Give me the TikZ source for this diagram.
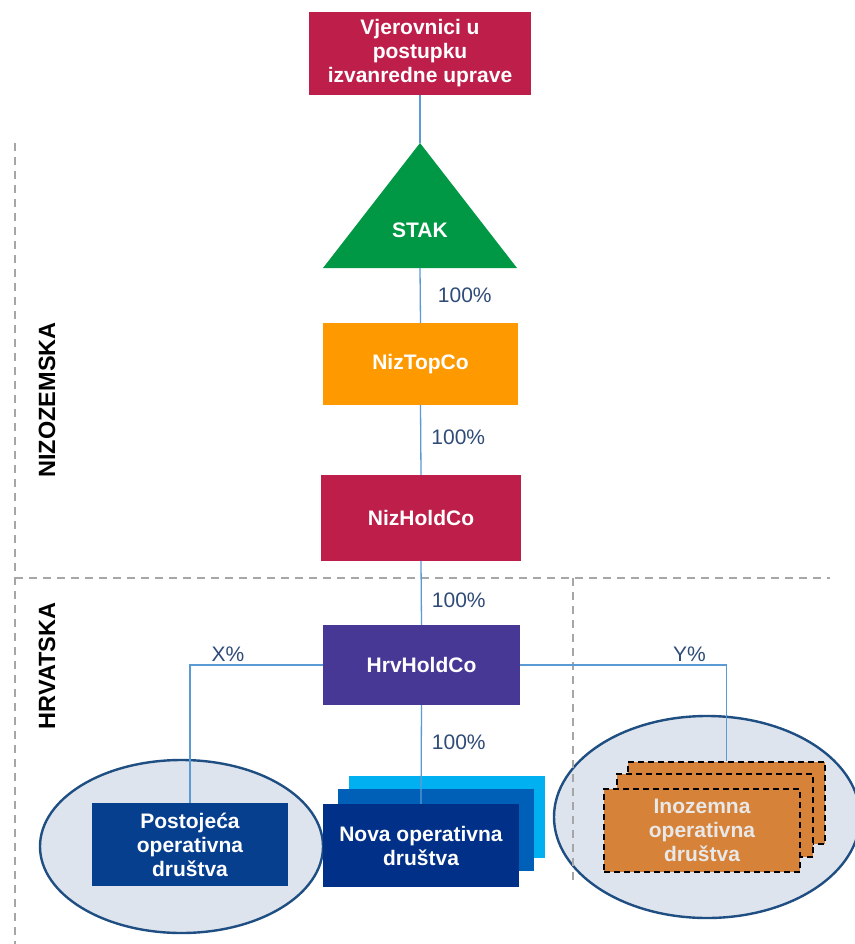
\documentclass[tikz,border=0pt]{standalone}
\usepackage{fontspec}
\setmainfont{Liberation Sans}
\usepackage{tikz}
\usetikzlibrary{calc}

\definecolor{crimson}{RGB}{190,30,74}
\definecolor{stakgreen}{RGB}{0,152,68}
\definecolor{toporange}{RGB}{255,153,0}
\definecolor{hrvpurple}{RGB}{72,56,150}
\definecolor{postblue}{RGB}{7,63,143}
\definecolor{novafront}{RGB}{0,48,135}
\definecolor{novamid}{RGB}{0,96,184}
\definecolor{novaback}{RGB}{0,176,240}
\definecolor{inozorange}{RGB}{215,130,57}
\definecolor{groupfill}{RGB}{222,228,237}
\definecolor{groupline}{RGB}{31,78,130}
\definecolor{linkblue}{RGB}{91,155,213}
\definecolor{pcttext}{RGB}{47,75,120}
\definecolor{divgray}{RGB}{166,166,166}

\tikzset{
	company/.style={rectangle, inner sep=0pt, text=white, align=center,
		font=\fontsize{21}{24}\selectfont\bfseries},
	card/.style={company, minimum width=196pt, minimum height=83pt},
	inozcard/.style={card, fill=inozorange, draw=black, line width=1.8pt,
		dash pattern=on 6pt off 4pt, text={rgb,255:red,232;green,232;blue,232}},
	link/.style={linkblue, line width=1.3pt},
	pct/.style={text=pcttext, font=\fontsize{21}{24}\selectfont, inner sep=1pt},
	divider/.style={divgray, line width=1.8pt, dash pattern=on 8pt off 6pt},
	group/.style={fill=groupfill, draw=groupline, line width=2.4pt},
	country/.style={rotate=90, font=\fontsize{23.5}{26}\selectfont\bfseries}
}

\begin{document}
\begin{tikzpicture}[x=1pt, y=-1pt]
			%%%%% START %%%%%
			
			\useasboundingbox[fill=white] (0, 0) rectangle (854, 944);
			
			\draw[group] (181.5, 846.5) ellipse [x radius=141.5, y radius=86.5];
			\draw[group] (707, 817) ellipse [x radius=153, y radius=101];
			
			\draw[divider] (15, 143) -- (15, 944);
			\draw[divider] (15, 578) -- (830, 578);
			\draw[divider] (573, 578) -- (573, 880);
			
			\node[country] (nizozemska) at (47, 400) {NIZOZEMSKA};
			\node[country] (hrvatska) at (47, 666) {HRVATSKA};
			
			\node[company, fill=crimson, minimum width=222pt, minimum height=83pt] (vjer) at (420, 53.5) {Vjerovnici u\\postupku\\izvanredne uprave};
			
			\coordinate (stakTop) at (420, 143);
			\coordinate (stakBase) at (420, 268);
			\fill[stakgreen] (stakTop) -- (517, 268) -- (323, 268) -- cycle;
			\node[company] (stak) at (420, 230) {STAK};
			
			\node[company, fill=toporange, minimum width=195pt, minimum height=82pt] (niztop) at (420.5, 364) {NizTopCo};
			\node[company, fill=crimson, minimum width=200pt, minimum height=86pt] (nizhold) at (421, 518) {NizHoldCo};
			\node[company, fill=hrvpurple, minimum width=197pt, minimum height=80pt] (hrvhold) at (421.5, 665) {HrvHoldCo};
			
			\node[card, fill=postblue] (post) at (190, 844.5) {Postojeća\\operativna\\društva};
			
			\node[card, fill=novaback, minimum height=82pt] (nova3) at (447, 817) {};
			\node[card, fill=novamid, minimum height=82pt] (nova2) at (435.5, 830) {};
			\node[card, fill=novafront] (nova) at (421, 845.5) {Nova operativna\\društva};
			
			\node[inozcard, minimum width=197pt, minimum height=82pt] (inoz3) at (726.5, 803) {};
			\node[inozcard] (inoz2) at (715, 815.5) {};
			\node[inozcard] (inoz) at (702, 830.5) {Inozemna\\operativna\\društva};
			
			\draw[link] (vjer.south) -- (stakTop);
			\draw[link] (stakBase) -- node[pct, anchor=west, xshift=16pt] {100\%} (niztop.north);
			\draw[link] (niztop.south) -- node[pct, anchor=west, xshift=9pt, yshift=3pt] {100\%} (nizhold.north);
			\draw[link] (nizhold.south) -- node[pct, anchor=west, xshift=9pt, yshift=-7pt] {100\%} (hrvhold.north);
			\draw[link] (hrvhold.south) -- node[pct, anchor=west, xshift=9pt, pos=0.38] {100\%} (nova.north);
			\draw[link] (hrvhold.west) -| node[pct, anchor=south, pos=0.357, yshift=2pt] {X\%} (post.north);
			\draw[link] (hrvhold.east) -| node[pct, anchor=south, pos=0.41, yshift=2pt] {Y\%} (inoz3.north);
			
			%%%%% END %%%%%
\end{tikzpicture}
\end{document}
